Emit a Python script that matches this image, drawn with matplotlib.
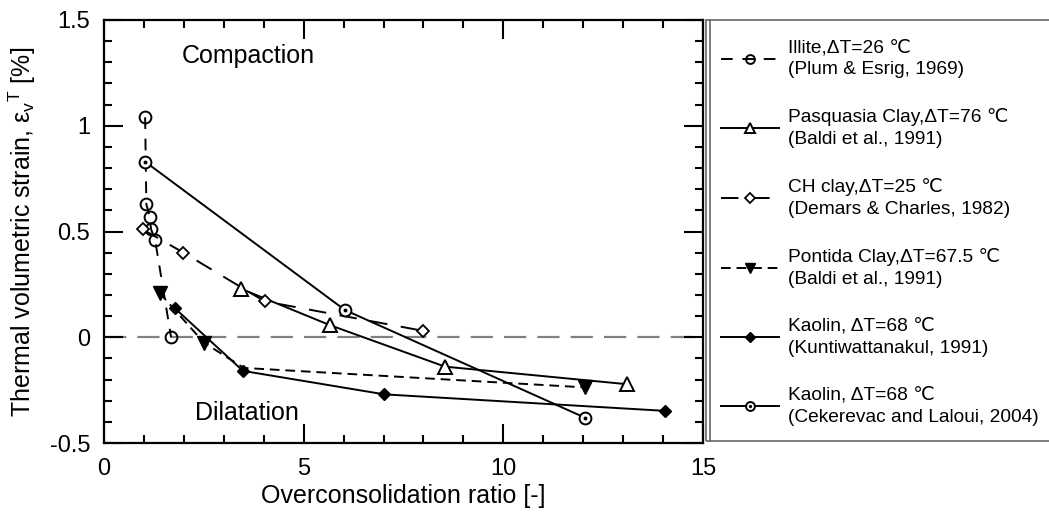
import matplotlib
matplotlib.use("Agg")
import matplotlib.pyplot as plt
from matplotlib.lines import Line2D
from matplotlib.legend_handler import HandlerTuple
from matplotlib.ticker import MultipleLocator

plt.rcParams['font.family'] = ['Liberation Sans', 'DejaVu Sans']
plt.rcParams['mathtext.fontset'] = 'custom'
plt.rcParams['mathtext.rm'] = 'Liberation Sans'
plt.rcParams['mathtext.it'] = 'Liberation Sans'

# ---- data ----
illite_x = [1.03, 1.06, 1.14, 1.18, 1.28, 1.68]
illite_y = [1.04, 0.63, 0.57, 0.51, 0.46, 0.0]

pasq_x = [3.42, 5.66, 8.54, 13.1]
pasq_y = [0.23, 0.057, -0.139, -0.222]

ch_x = [0.97, 1.99, 4.02, 8.0]
ch_y = [0.51, 0.40, 0.17, 0.03]

pont_x = [1.39, 2.5, 3.5, 12.04]
pont_y = [0.21, -0.025, -0.145, -0.237]
pont_marked = [0, 1, 3]

kunt_x = [1.78, 3.48, 7.02, 14.04]
kunt_y = [0.136, -0.159, -0.27, -0.348]

cek_x = [1.03, 6.03, 12.04]
cek_y = [0.83, 0.129, -0.38]

labels = [
    "Illite,\u0394T=26 \u2103\n(Plum & Esrig, 1969)",
    "Pasquasia Clay,\u0394T=76 \u2103\n(Baldi et al., 1991)",
    "CH clay,\u0394T=25 \u2103\n(Demars & Charles, 1982)",
    "Pontida Clay,\u0394T=67.5 \u2103\n(Baldi et al., 1991)",
    "Kaolin, \u0394T=68 \u2103\n(Kuntiwattanakul, 1991)",
    "Kaolin, \u0394T=68 \u2103\n(Cekerevac and Laloui, 2004)",
]

W, H = 1049, 513
fig = plt.figure(figsize=(W / 100, H / 100), dpi=100)
ax = fig.add_axes([104 / W, (H - 443) / H, (703 - 104) / W, (443 - 20) / H])

ax.axhline(0, color='#808080', lw=1.6, dashes=(10, 5), zorder=1)

lw = 1.4
ms = 8.5
l_ill, = ax.plot(illite_x, illite_y, color='k', lw=lw, dashes=(6, 5),
                 marker='o', ms=ms, mfc='none', mec='k', mew=1.4, zorder=3)
l_pas, = ax.plot(pasq_x, pasq_y, color='k', lw=lw, marker='^', ms=ms + 1,
                 mfc='white', mec='k', mew=1.4, zorder=3)
l_ch, = ax.plot(ch_x, ch_y, color='k', lw=lw, dashes=(9, 7), marker='D', ms=ms - 2,
                mfc='white', mec='k', mew=1.3, zorder=3)
l_pon, = ax.plot(pont_x, pont_y, color='k', lw=lw, dashes=(5, 3), marker='v', ms=ms + 1,
                 mfc='k', mec='k', markevery=pont_marked, zorder=3)
l_kun, = ax.plot(kunt_x, kunt_y, color='k', lw=lw, marker='D', ms=ms - 2,
                 mfc='k', mec='k', zorder=3)
l_cek, = ax.plot(cek_x, cek_y, color='k', lw=lw, marker='o', ms=ms,
                 mfc='white', mec='k', mew=1.4, zorder=3)
l_cekd, = ax.plot(cek_x, cek_y, ls='none', marker='o', ms=1.8, color='k', zorder=4)

ax.set_xlim(0, 15)
ax.set_ylim(-0.5, 1.5)
ax.xaxis.set_major_locator(MultipleLocator(5))
ax.xaxis.set_minor_locator(MultipleLocator(1))
ax.yaxis.set_minor_locator(MultipleLocator(0.1))
ax.set_yticks([-0.5, 0, 0.5, 1, 1.5])
ax.set_yticklabels(['-0.5', '0', '0.5', '1', '1.5'])
ax.tick_params(which='both', direction='in', top=True, right=True, width=1.5)
ax.tick_params(which='major', length=14, labelsize=17)
ax.tick_params(axis='x', which='major', pad=11)
ax.tick_params(axis='y', which='major', pad=10)
ax.tick_params(which='minor', length=5.5)
for s in ax.spines.values():
    s.set_linewidth(1.6)

ax.set_xlabel("Overconsolidation ratio [-]", fontsize=18)
ax.set_ylabel("Thermal volumetric strain, \u03b5$_\\mathregular{v}$$^\\mathregular{T}$ [%]",
              fontsize=18)
ax.xaxis.set_label_coords(0.5, -0.125)
ax.yaxis.set_label_coords(-0.137, 0.5)
ax.xaxis.label.set_va('center')
ax.yaxis.label.set_va('center')

ax.text(3.62, 1.33, "Compaction", fontsize=18, ha='center', va='center')
ax.text(3.57, -0.36, "Dilatation", fontsize=18, ha='center', va='center')

# legend box with double left edge
fig.add_artist(plt.Rectangle((706 / W, (H - 441) / H), (W + 20 - 706) / W, (441 - 20) / H,
                             transform=fig.transFigure, fill=False, edgecolor='#666666',
                             lw=1.2, clip_on=False))
fig.add_artist(Line2D([709.5 / W, 709.5 / W], [(H - 441) / H, (H - 20) / H],
                      transform=fig.transFigure, color='#666666', lw=1.2))

handles = [l_ill, l_pas, l_ch, l_pon, l_kun, (l_cek, l_cekd)]
leg = fig.legend(handles, labels, loc='upper left', bbox_to_anchor=(704 / W, (H - 22) / H),
                 frameon=False, fontsize=13.8, handlelength=3.0, handletextpad=0.5,
                 labelspacing=1.55, markerscale=0.75,
                 handler_map={tuple: HandlerTuple(ndivide=1, pad=0)})
for t in leg.get_texts():
    t.set_linespacing(1.4)

fig.savefig("out.png", dpi=100)
